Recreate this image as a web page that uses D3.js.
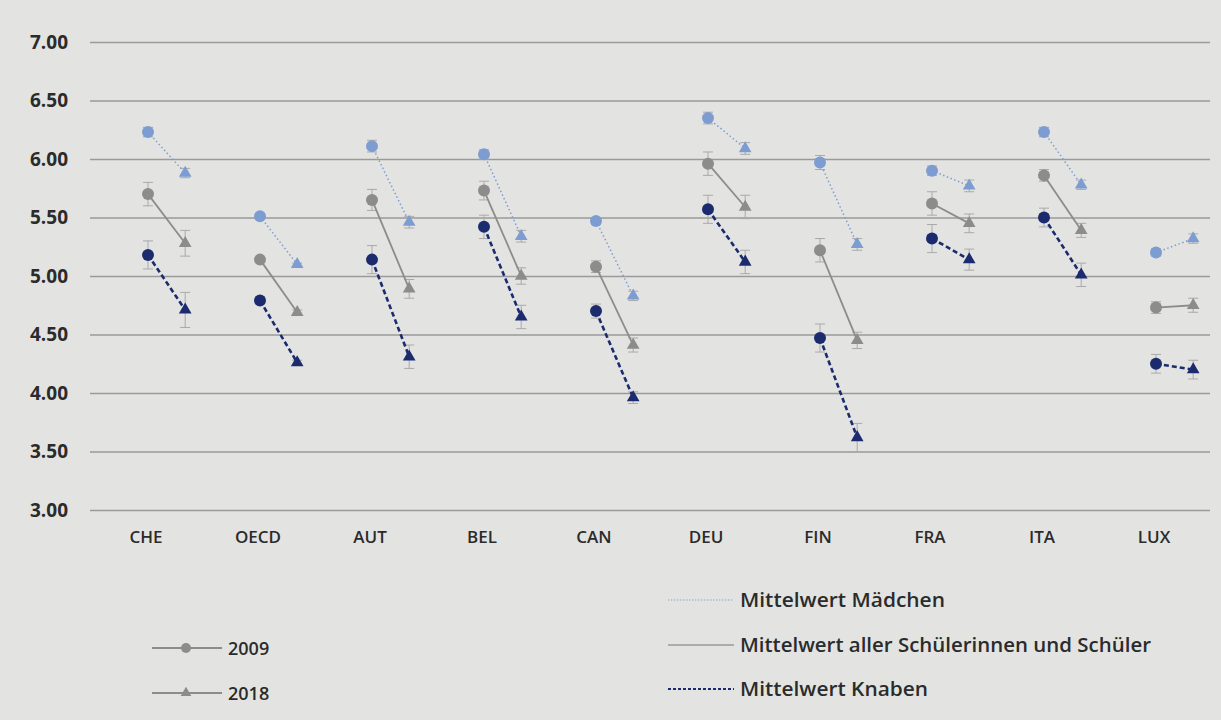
<!DOCTYPE html>
<html>
<head>
<meta charset="utf-8">
<script src="https://cdn.jsdelivr.net/npm/d3@7"></script>
<style>
  body { margin: 0; background: #e3e4e2; }
  text { font-family: "Open Sans", sans-serif; fill: #2b2b2b; }
</style>
</head>
<body>
<div id="chart"></div>
<script>
// data
var countries = ["CHE", "OECD", "AUT", "BEL", "CAN", "DEU", "FIN", "FRA", "ITA", "LUX"];
var years = ["2009", "2018"];
var yTicks = [3, 3.5, 4, 4.5, 5, 5.5, 6, 6.5, 7];

var girls2009 = [6.23, 5.51, 6.11, 6.04, 5.47, 6.35, 5.97, 5.90, 6.23, 5.20];
var girls2018 = [5.88, 5.10, 5.46, 5.34, 4.83, 6.09, 5.27, 5.77, 5.78, 5.32];
var all2009   = [5.70, 5.14, 5.65, 5.73, 5.08, 5.96, 5.22, 5.62, 5.86, 4.73];
var all2018   = [5.28, 4.69, 4.89, 5.00, 4.41, 5.59, 4.45, 5.45, 5.39, 4.75];
var boys2009  = [5.18, 4.79, 5.14, 5.42, 4.70, 5.57, 4.47, 5.32, 5.50, 4.25];
var boys2018  = [4.71, 4.26, 4.31, 4.65, 3.96, 5.12, 3.62, 5.14, 5.01, 4.20];

// error bar half widths
var girlsErr2009 = [0.04, 0.01, 0.05, 0.04, 0.03, 0.05, 0.06, 0.04, 0.04, 0.03];
var girlsErr2018 = [0.04, 0.01, 0.05, 0.05, 0.04, 0.05, 0.05, 0.05, 0.04, 0.04];
var allErr2009   = [0.10, 0.02, 0.09, 0.08, 0.05, 0.10, 0.10, 0.10, 0.05, 0.05];
var allErr2018   = [0.11, 0.02, 0.08, 0.07, 0.06, 0.10, 0.07, 0.08, 0.06, 0.06];
var boysErr2009  = [0.12, 0.02, 0.12, 0.10, 0.06, 0.12, 0.12, 0.12, 0.08, 0.08];
var boysErr2018  = [0.15, 0.02, 0.10, 0.10, 0.05, 0.10, 0.12, 0.09, 0.10, 0.08];

var svgWidth = 1221;
var svgHeight = 720;

var svg = d3.select("#chart")
  .append("svg")
  .attr("width", svgWidth)
  .attr("height", svgHeight);

var xBand = d3.scaleBand()
  .domain(countries)
  .range([90, 1210]);

var xYear = d3.scalePoint()
  .domain(years)
  .range([2, xBand.bandwidth() * 0.35]);

var y = d3.scaleLinear()
  .domain([3, 7])
  .range([510, 42]);

function xPos(c, yr) {
  return xBand(c) + xBand.bandwidth() / 2 + xYear(yr);
}

// gridlines + y labels
var yAxis = d3.axisLeft(y)
  .tickValues(yTicks)
  .tickSize(-1120)
  .tickPadding(22)
  .tickFormat(d3.format(".2f"));

var yG = svg.append("g")
  .attr("transform", "translate(90,0)")
  .call(yAxis);
yG.select(".domain").remove();
yG.selectAll(".tick line").attr("stroke", "#9a9a9a").attr("stroke-width", 1.5);
yG.selectAll(".tick text")
  .attr("font-size", 19).attr("font-weight", 700)
  .style("font-family", "'Open Sans', sans-serif").attr("fill", "#2b2b2b");

// category labels
svg.append("g").selectAll("text")
  .data(countries)
  .enter()
  .append("text")
  .attr("x", d => xBand(d) + xBand.bandwidth() / 2)
  .attr("y", 543)
  .attr("text-anchor", "middle")
  .attr("font-size", 17)
  .attr("font-weight", 600)
  .text(d => d);

var series = [
  { name: "girls", v09: girls2009, v18: girls2018, e09: girlsErr2009, e18: girlsErr2018,
    color: "#7d9dd2", width: 1.5, dash: "1.5,2.5" },
  { name: "all", v09: all2009, v18: all2018, e09: allErr2009, e18: allErr2018,
    color: "#8c8c8c", width: 1.8, dash: null },
  { name: "boys", v09: boys2009, v18: boys2018, e09: boysErr2009, e18: boysErr2018,
    color: "#1c2b6e", width: 2.6, dash: "5,3" }
];

var triangle = d3.symbol().type(d3.symbolTriangle).size(70);

series.forEach(function(s) {
  var g = svg.append("g");

  // error bars
  countries.forEach(function(c, i) {
    [["2009", s.v09[i], s.e09[i]], ["2018", s.v18[i], s.e18[i]]].forEach(function(p) {
      var cx = xPos(c, p[0]);
      var eg = g.append("g").attr("stroke", "#a9a9a9").attr("stroke-width", 1);
      eg.append("line").attr("x1", cx).attr("x2", cx).attr("y1", y(p[1] - p[2])).attr("y2", y(p[1] + p[2]));
      eg.append("line").attr("x1", cx - 5).attr("x2", cx + 5).attr("y1", y(p[1] - p[2])).attr("y2", y(p[1] - p[2]));
      eg.append("line").attr("x1", cx - 5).attr("x2", cx + 5).attr("y1", y(p[1] + p[2])).attr("y2", y(p[1] + p[2]));
    });
  });

  // connecting lines
  g.selectAll("line.conn")
    .data(countries)
    .enter()
    .append("line")
    .attr("class", "conn")
    .attr("x1", d => xPos(d, "2009"))
    .attr("x2", d => xPos(d, "2018"))
    .attr("y1", (d, i) => y(s.v09[i]))
    .attr("y2", (d, i) => y(s.v18[i]))
    .attr("stroke", s.color)
    .attr("stroke-width", s.width)
    .attr("stroke-dasharray", s.dash);

  // 2009 circles
  g.selectAll("circle")
    .data(countries)
    .enter()
    .append("circle")
    .attr("cx", d => xPos(d, "2009"))
    .attr("cy", (d, i) => y(s.v09[i]))
    .attr("r", 6)
    .attr("fill", s.color);

  // 2018 triangles
  g.selectAll("path.tri")
    .data(countries)
    .enter()
    .append("path")
    .attr("class", "tri")
    .attr("d", triangle)
    .attr("transform", (d, i) => `translate(${xPos(d, "2018")},${y(s.v18[i])})`)
    .attr("fill", s.color);
});

// legend left (years)
var legYears = [
  { label: "2009", y: 648, sym: "circle" },
  { label: "2018", y: 693, sym: "tri" }
];
legYears.forEach(function(l) {
  svg.append("line")
    .attr("x1", 152).attr("x2", 222).attr("y1", l.y).attr("y2", l.y)
    .attr("stroke", "#8c8c8c").attr("stroke-width", 2);
  if (l.sym == "circle") {
    svg.append("circle").attr("cx", 186).attr("cy", l.y).attr("r", 5).attr("fill", "#8c8c8c");
  } else {
    svg.append("path").attr("d", d3.symbol().type(d3.symbolTriangle).size(50))
      .attr("transform", `translate(186,${l.y})`).attr("fill", "#8c8c8c");
  }
  svg.append("text")
    .attr("x", 228).attr("y", l.y + 7)
    .attr("font-size", 18).attr("font-weight", 600)
    .text(l.label);
});

// legend right (series)
var legSeries = [
  { label: "Mittelwert Mädchen", y: 600, len: 205, color: "#8ea6d0", width: 1.2, dash: "1.5,1.5" },
  { label: "Mittelwert aller Schülerinnen und Schüler", y: 645, len: 411, color: "#9a9a9a", width: 1.5, dash: null },
  { label: "Mittelwert Knaben", y: 689, len: 188, color: "#1c2b6e", width: 1.8, dash: "3,2" }
];
legSeries.forEach(function(l) {
  svg.append("line")
    .attr("x1", 668).attr("x2", 734).attr("y1", l.y).attr("y2", l.y)
    .attr("stroke", l.color).attr("stroke-width", l.width)
    .attr("stroke-dasharray", l.dash);
  svg.append("text")
    .attr("x", 740).attr("y", l.y + 7)
    .attr("font-size", 19).attr("font-weight", 600)
    .attr("textLength", l.len)
    .attr("lengthAdjust", "spacingAndGlyphs")
    .text(l.label);
});
</script>
</body>
</html>
